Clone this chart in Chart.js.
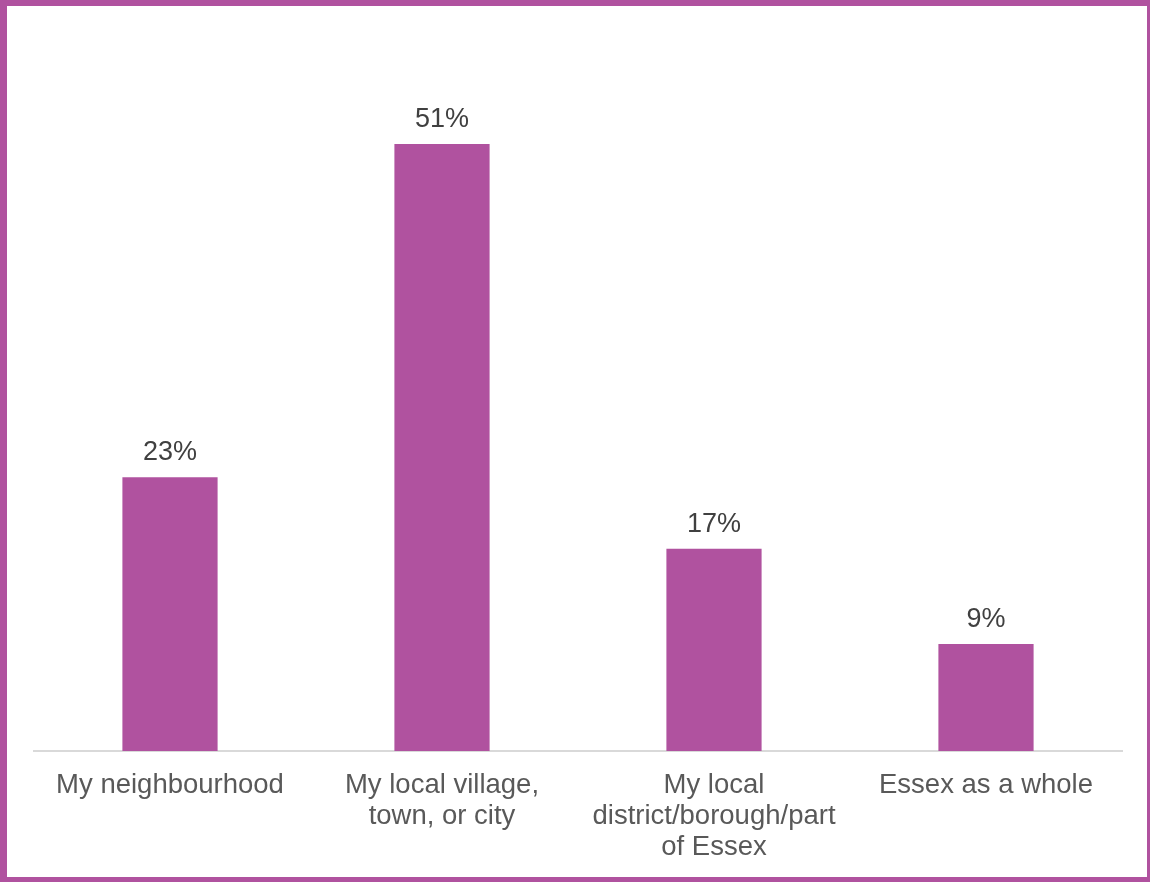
<!DOCTYPE html>
<html>
<head>
<meta charset="utf-8">
<script src="https://cdn.jsdelivr.net/npm/chart.js@4/dist/chart.umd.min.js"></script>
<style>
  html, body { margin: 0; padding: 0; background: #fff; }
  #frame {
    width: 1150px; height: 882px; box-sizing: border-box;
    border-style: solid; border-color: #B0529F;
    border-width: 6px 3px 5px 7px;
    position: relative; background: #fff;
  }
  #wrap { position: absolute; left: 0; top: 0; width: 1140px; height: 871px; }
</style>
</head>
<body>
<div id="frame"><div id="wrap"><canvas id="myChart"></canvas></div></div>
<script>
// categories and values
var categories = [
  'My neighbourhood',
  ['My local village,', 'town, or city'],
  ['My local', 'district/borough/part', 'of Essex'],
  'Essex as a whole'
];
var values = [23, 51, 17, 9];
var valueLabels = ['23%', '51%', '17%', '9%'];

var purple = '#B0529F';

// draw the % labels over each bar
var barLabels = {
  id: 'barLabels',
  afterDatasetsDraw: function(chart) {
    var ctx = chart.ctx;
    var meta = chart.getDatasetMeta(0);
    ctx.save();
    ctx.font = '27px "Liberation Sans", Arial, sans-serif';
    ctx.fillStyle = '#404040';
    ctx.textAlign = 'center';
    ctx.textBaseline = 'alphabetic';
    meta.data.forEach(function(bar, i) {
      ctx.fillText(valueLabels[i], bar.x, bar.y - 17);
    });
    ctx.restore();
  }
};

var ctx = document.getElementById('myChart').getContext('2d');
var chart = new Chart(ctx, {
  type: 'bar',
  data: {
    labels: categories,
    datasets: [{
      data: values,
      backgroundColor: purple,
      borderWidth: 0,
      categoryPercentage: 0.35,
      barPercentage: 1.0
    }]
  },
  options: {
    responsive: true,
    maintainAspectRatio: false,
    animation: false,
    layout: { padding: { left: 27, right: 25, top: 31, bottom: 0 } },
    plugins: { legend: { display: false }, tooltip: { enabled: false } },
    scales: {
      y: { display: false, min: 0, max: 60 },
      x: {
        grid: { display: false, drawTicks: false },
        border: { display: true, color: '#D9D9D9', width: 2 },
        ticks: {
          color: '#595959',
          padding: 19,
          maxRotation: 0,
          autoSkip: false,
          font: { family: '"Liberation Sans", Arial, sans-serif', size: 27.5, lineHeight: 1.12 }
        },
        afterFit: function(scale) { scale.height = 126; }
      }
    }
  },
  plugins: [barLabels]
});
</script>
</body>
</html>
